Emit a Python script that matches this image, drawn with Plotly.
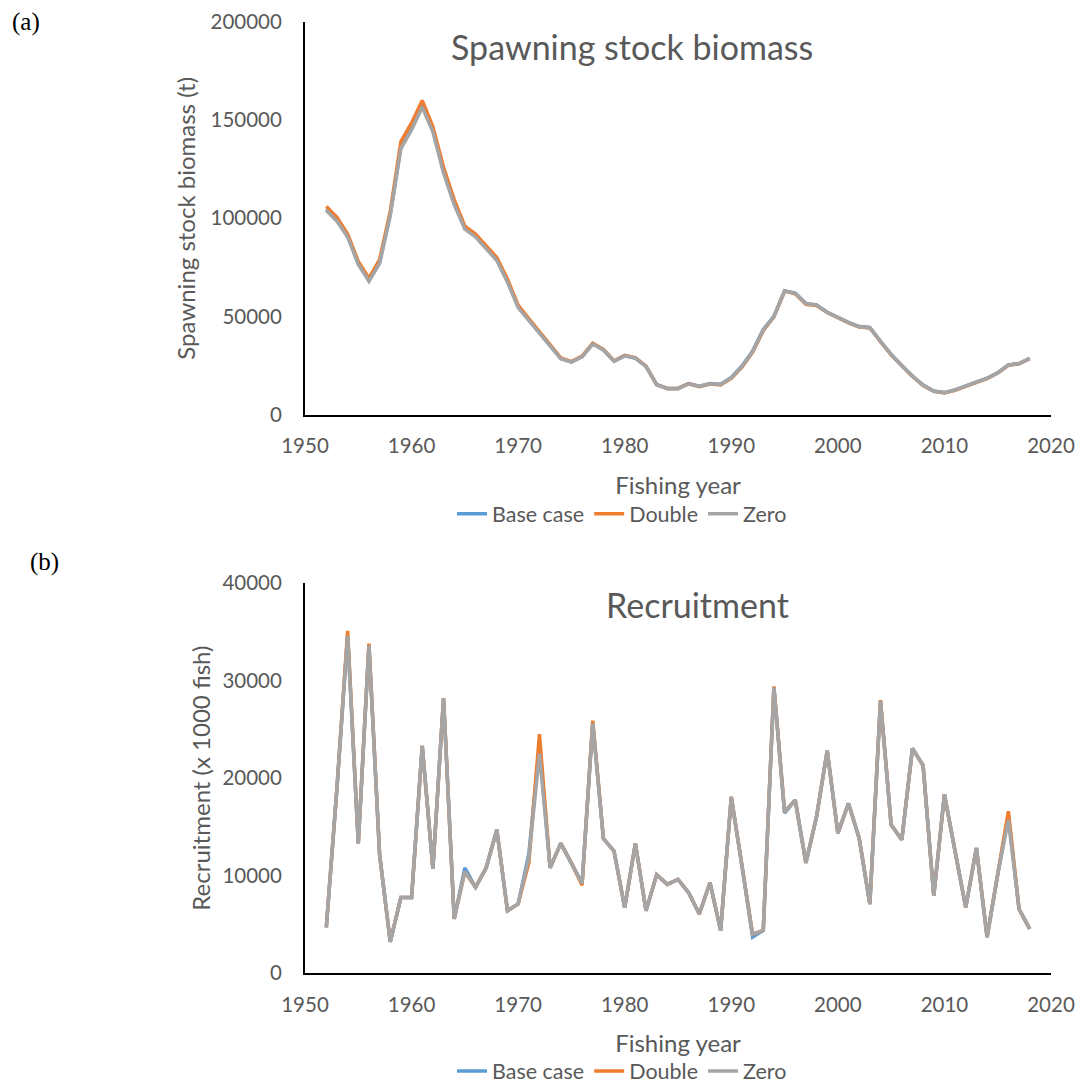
import plotly.graph_objects as go

years = list(range(1952, 2019))

ssb_zero = [104000, 98500, 90500, 76500, 68000, 77000, 101500, 135500, 145000, 156500,
            144000, 123000, 107000, 94500, 90500, 84500, 78500, 67500, 54500, 48000,
            41500, 35500, 28500, 26800, 29500, 36000, 33000, 27200, 30000, 28800,
            24500, 15300, 13300, 13300, 15800, 14400, 15800, 15400, 18800, 24600,
            32200, 43200, 50000, 63000, 61800, 56600, 55800, 52100, 49400, 46900,
            44800, 44300, 37300, 30600, 25000, 19600, 15000, 12000, 11200, 12600,
            14600, 16600, 18500, 21300, 25300, 26000, 28600]
ssb_base = [104500, 99000, 91000, 77000, 68300, 77500, 102000, 136500, 146000, 157500,
            145000, 124000, 108000, 95000, 91000, 85000, 79000, 68000, 55000, 48300,
            41800, 35700, 28700, 26900, 29600, 36100, 33100, 27300, 30100, 28900,
            24600, 15400, 13400, 13400, 15900, 14500, 15900, 15500, 19000, 24800,
            32400, 43400, 50100, 63100, 61900, 56700, 55900, 52200, 49500, 47000,
            44900, 44400, 37400, 30700, 25100, 19700, 15100, 12100, 11300, 12700,
            14700, 16700, 18600, 21400, 25400, 26100, 28700]
ssb_double = [106000, 100500, 92000, 78000, 69500, 79000, 103500, 139000, 148500, 160000,
              146500, 126000, 109500, 96000, 92000, 86000, 80000, 69000, 55800, 49000,
              42300, 36200, 29000, 27100, 29900, 36400, 33300, 27400, 30200, 29000,
              24700, 15400, 13400, 13400, 15800, 14300, 15600, 15200, 18500, 24300,
              31800, 42800, 49800, 63000, 61600, 56200, 55600, 52000, 49300, 46800,
              44700, 44200, 37200, 30500, 24900, 19500, 14900, 11900, 11100, 12500,
              14500, 16500, 18400, 21200, 25200, 25900, 28500]

rec_zero = [4700, 19000, 34600, 13300, 33600, 12150, 3200, 7750, 7750, 23300,
            10700, 28200, 5550, 10400, 8800, 10800, 14700, 6400, 7100, 11800,
            22500, 10800, 13300, 11300, 9200, 25600, 13800, 12500, 6700, 13300,
            6400, 10100, 9100, 9600, 8250, 6060, 9270, 4370, 18070, 11000,
            4000, 4370, 29300, 16550, 17740, 11300, 16040, 22810, 14350, 17400,
            13840, 7080, 27900, 15200, 13680, 23050, 21290, 7920, 18310, 12490,
            6730, 12830, 3690, 10120, 15700, 6570, 4540]
rec_base = [4700, 19000, 34700, 13300, 33700, 12150, 3200, 7750, 7750, 23300,
            10700, 28200, 5550, 10800, 8800, 10800, 14700, 6400, 7100, 12200,
            23300, 10800, 13300, 11300, 9200, 25700, 13800, 12500, 6700, 13300,
            6400, 10100, 9100, 9600, 8250, 6060, 9270, 4370, 18070, 11000,
            3700, 4370, 29300, 16400, 17740, 11300, 16040, 22810, 14350, 17400,
            13840, 7080, 27900, 15200, 13680, 23050, 21290, 7920, 18310, 12490,
            6730, 12830, 3690, 10120, 16200, 6570, 4540]
rec_double = [4700, 19000, 35100, 13300, 33800, 12150, 3200, 7750, 7750, 23300,
              10700, 28200, 5550, 10400, 8800, 10800, 14700, 6400, 7100, 11300,
              24500, 10800, 13300, 11300, 9000, 25900, 13800, 12500, 6700, 13300,
              6400, 10100, 9100, 9600, 8250, 6060, 9270, 4370, 18070, 11000,
              4000, 4370, 29400, 16550, 17740, 11300, 16040, 22810, 14350, 17400,
              13840, 7080, 28000, 15200, 13680, 23050, 21290, 7920, 18310, 12490,
              6730, 12830, 3690, 10120, 16600, 6570, 4540]

series_names = ["Base case", "Double", "Zero"]
colors = ["#5B9BD5", "#ED7D31", "#A5A5A5"]

W, H = 1082, 1092
FONT = "Lato"
TXT = "#595959"

fig = go.Figure()

ssb_sets = [ssb_base, ssb_double, ssb_zero]
rec_sets = [rec_base, rec_double, rec_zero]
for name, col, vals in zip(series_names, colors, ssb_sets):
    fig.add_trace(go.Scatter(x=years, y=vals, mode="lines", name=name,
                             line=dict(color=col, width=3.5),
                             xaxis="x", yaxis="y", legend="legend"))
for name, col, vals in zip(series_names, colors, rec_sets):
    fig.add_trace(go.Scatter(x=years, y=vals, mode="lines", name=name,
                             line=dict(color=col, width=3.5),
                             xaxis="x2", yaxis="y2", legend="legend2"))

def px_x(p):
    return p / W

def px_y(p):
    return 1 - p / H

xdom = [px_x(305), px_x(1051)]
axis_common = dict(showline=True, linecolor="black", linewidth=2, showgrid=False,
                   zeroline=False, ticks="", automargin=False, tickformat="d",
                   tickfont=dict(family=FONT, size=20.5, color=TXT))
title_font = dict(family=FONT, size=24, color=TXT)

fig.update_layout(
    width=W, height=H,
    margin=dict(l=0, r=0, t=0, b=0),
    paper_bgcolor="white", plot_bgcolor="white",
    font=dict(family=FONT, color=TXT),
    xaxis=dict(domain=xdom, range=[1950, 2020], dtick=10, tick0=1950, anchor="y",
               title=dict(text="Fishing year", font=title_font, standoff=21),
               ticklabelstandoff=12, **axis_common),
    yaxis=dict(domain=[px_y(419), px_y(22)], range=[0, 200000], dtick=50000, anchor="x",
               title=dict(text="Spawning stock biomass (t)", font=title_font, standoff=8),
               ticklabelstandoff=17, **axis_common),
    xaxis2=dict(domain=xdom, range=[1950, 2020], dtick=10, tick0=1950, anchor="y2",
                title=dict(text="Fishing year", font=title_font, standoff=21),
                ticklabelstandoff=12, **axis_common),
    yaxis2=dict(domain=[px_y(983), px_y(589)], range=[0, 40000], dtick=10000, anchor="x2",
                title=dict(text="Recruitment (x 1000 fish)", font=title_font, standoff=5),
                ticklabelstandoff=17, **axis_common),
    legend=dict(orientation="h", x=px_x(622), xanchor="center", y=px_y(519), yanchor="middle",
                font=dict(family=FONT, size=21.5, color=TXT), bgcolor="rgba(0,0,0,0)"),
    legend2=dict(orientation="h", x=px_x(622), xanchor="center", y=px_y(1082), yanchor="middle",
                 font=dict(family=FONT, size=21.5, color=TXT), bgcolor="rgba(0,0,0,0)"),
    annotations=[
        dict(text="Spawning stock biomass", x=px_x(632), y=px_y(47), xref="paper", yref="paper",
             showarrow=False, xanchor="center", yanchor="middle",
             font=dict(family=FONT, size=34, color=TXT)),
        dict(text="Recruitment", x=px_x(697), y=px_y(611), xref="paper", yref="paper",
             showarrow=False, xanchor="center", yanchor="middle",
             font=dict(family=FONT, size=34, color=TXT)),
        dict(text="(a)", x=px_x(10), y=px_y(22), xref="paper", yref="paper",
             showarrow=False, xanchor="left", yanchor="middle",
             font=dict(family="Liberation Serif", size=25, color="black")),
        dict(text="(b)", x=px_x(28), y=px_y(568), xref="paper", yref="paper",
             showarrow=False, xanchor="left", yanchor="middle",
             font=dict(family="Liberation Serif", size=25, color="black")),
    ],
)

fig.write_html("out.html", config={"displayModeBar": False},
               post_script="document.body.style.margin='0';")
